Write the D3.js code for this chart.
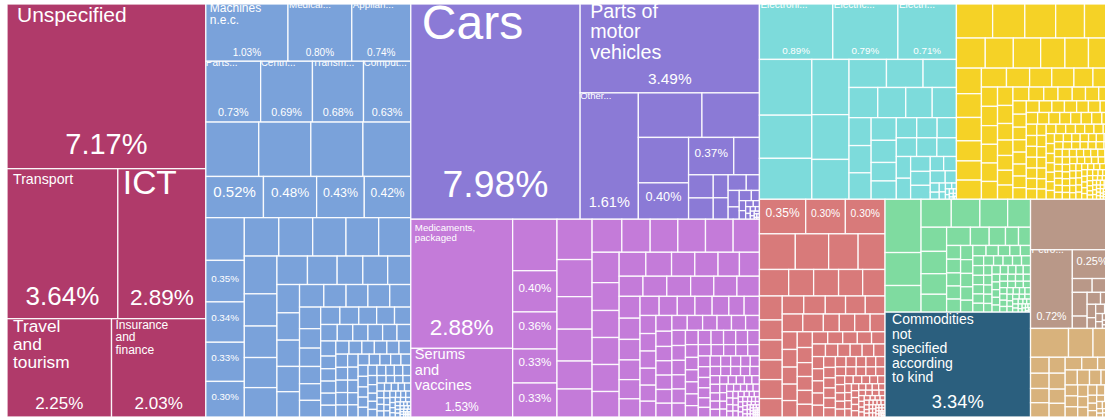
<!DOCTYPE html>
<html>
<head>
<meta charset="utf-8">
<script src="https://cdn.jsdelivr.net/npm/d3@7"></script>
<style>
  html, body { margin: 0; background: #fff; overflow: hidden; }
  text { font-family: "Liberation Sans", Arial, sans-serif; fill: #fff; }
</style>
</head>
<body>
<svg id="chart" width="1105" height="418"></svg>
<script>
// shares of exports in percent, biggest first in every group
var serviceShares = [7.17, 3.64, 2.89, 2.25, 2.03];
var machineryShares = [1.03, .80, .74, .73, .69, .68, .63, .63, .62, .62, .57, .52, .48, .43, .42, .36, .35, .34, .33, .30,
  .29, .285, .28, .275, .27, .27, .23, .225, .215, .21, .19, .185, .16, .155, .144, .14, .135, .13, .125, .125, .12,
  .11, .108, .108, .104, .10, .09, .085, .08, .077, .077, .073, .072, .068, .068, .062, .06,
  .056, .055, .053, .052, .05, .05, .042, .041, .04, .04, .039, .038, .037, .036, .036, .035, .034, .034,
  .033, .032, .032, .031, .03, .03, .029, .028, .028, .027, .026, .026, .025, .024, .024, .023, .022, .022, .021, .02, .02,
  .019, .019, .018, .018, .017, .016, .016, .015, .015, .014, .014, .013, .013, .012, .012, .011, .011, .01, .01, .01,
  .009, .009, .009, .008, .008, .008, .007, .007, .007, .006, .006, .006, .005, .005, .005, .005, .004, .004, .004, .004,
  .003, .003, .003, .003, .003, .002, .002, .002, .002, .002, .002, .001, .001, .001, .001, .001, .001, .001, .001];
var vehicleShares = [7.98, 3.49, 1.61, .62, .56, .50, .40, .37, .21, .125, .115, .075, .07, .062, .045, .04, .03, .027,
  .018, .014, .012, .01, .008, .007, .006, .005, .004, .004, .003, .003, .002, .002, .001, .001];
var chemicalShares = [2.88, 1.53, .50, .40, .36, .33, .33, .31, .285, .25, .245, .215, .215,
  .215, .205, .2, .2, .2, .19, .18, .165, .16, .16, .16, .151, .14, .135, .122, .122, .112, .105,
  .105, .105, .105, .102, .102, .099, .1, .097, .094, .09, .088, .083, .08, .076, .074, .072, .07, .064, .064,
  .063, .061, .06, .059, .056, .055, .055, .053, .05, .05, .05, .048, .048,
  .05, .05, .047, .047, .046, .045, .045, .044, .043, .042, .042, .041, .04, .04,
  .039, .038, .037, .037, .036, .035, .034, .034, .033, .032, .032, .031, .03, .03, .029, .028, .028, .027, .026, .025,
  .025, .024, .023, .023, .022, .021, .021, .02, .02, .019, .019, .018, .018, .017, .017, .016, .016, .015, .015, .014,
  .014, .013, .013, .012, .012, .011, .011, .01, .01, .01, .009, .009, .009, .008, .008, .008, .007, .007, .007, .006, .006, .006,
  .005, .005, .005, .005, .005, .004, .004, .004, .004, .004, .004, .003, .003, .003, .003, .003, .003,
  .002, .002, .002, .002, .002, .002, .002, .002, .001, .001, .001, .001, .001, .001, .001, .001, .001, .001];
var electronicTopShares = [.89, .79, .71];
var electronicShares = [.64, .495, .47, .45, .365, .325, .23, .225, .205, .19, .185, .175, .16, .135, .132, .128,
  .125, .122, .102, .101, .09, .09, .085, .083, .083, .08, .068, .066, .064, .06, .06, .042, .04, .04, .03,
  .018, .014, .012, .01, .008, .006, .005, .004, .004, .003, .003, .002, .002, .001, .001];
var metalShares = [.27, .24, .23, .215, .205, .19, .185, .18, .16, .155, .155, .14, .13, .128, .11, .105, .105,
  .104, .096, .092, .092, .079, .079, .068, .068, .066, .066, .065, .063, .062, .061, .056, .052, .05, .05, .048, .048,
  .045, .043, .043, .04, .04, .04, .039, .038, .037, .036, .035, .035, .034, .034, .033, .032, .032, .031, .03, .03, .03,
  .029, .029, .028, .028, .027, .027, .026, .026, .026, .025, .025, .025, .024, .024, .024, .023, .023, .022, .022, .022,
  .021, .021, .02, .02, .02, .019, .019, .019, .018, .018, .018, .017, .017, .017, .016, .016, .016, .015, .015, .015,
  .014, .014, .014, .014, .014, .014, .013, .013, .013, .013, .013, .013, .012, .012, .012, .012, .012, .012,
  .012, .012, .012, .012, .012, .012, .012, .012,
  .011, .011, .011, .011, .011, .011, .01, .01, .01, .01, .01, .01, .01, .01, .009, .009, .009, .009, .009, .009,
  .008, .008, .008, .008, .008, .008, .007, .007, .007, .007, .007, .007, .006, .006, .006, .006, .006, .006,
  .005, .005, .005, .005, .005, .005, .004, .004, .004, .004, .004, .004, .004, .004,
  .003, .003, .003, .003, .003, .003, .003, .003, .002, .002, .002, .002, .002, .002, .002, .002,
  .001, .001, .001, .001, .001, .001, .001, .001];
var foodShares = [.35, .30, .30, .28, .26, .23, .21, .17, .145, .145, .14, .13, .12, .10, .10, .098, .095, .092,
  .085, .085, .08, .078, .078, .08, .08, .062, .06, .06, .058, .058, .058, .056, .054, .054, .052, .05, .046, .046, .046, .042,
  .041, .04, .039, .038, .036, .036, .034, .034, .033, .032, .031, .03, .03, .03, .03, .029, .028, .027,
  .026, .026, .025, .024, .024, .023, .022, .022, .021, .02, .02, .019, .019, .018, .018, .017, .017, .016, .016, .015,
  .015, .014, .014, .013, .013, .012, .012, .012, .011, .011, .011, .01, .01, .01, .009, .009, .009, .008, .008, .008,
  .007, .007, .007, .006, .006, .006, .005, .005, .005, .005, .005, .004, .004, .004, .004, .004, .004,
  .003, .003, .003, .003, .003, .003, .002, .002, .002, .002, .002, .002, .002, .002, .001, .001, .001, .001, .001, .001, .001, .001];
var textileShares = [.42, .26, .21, .185, .175, .17, .14, .135, .125, .115, .10, .095, .075, .065, .052, .048, .042, .042, .04,
  .04, .04, .038, .037, .036, .036, .032, .03, .028, .026, .024, .023, .023, .023, .022, .022, .022, .021, .021, .02, .02, .019, .019,
  .018, .018, .017, .017, .016, .016, .015, .015, .014, .014, .013, .013, .013, .013, .012, .012, .012, .012,
  .011, .011, .011, .011, .01, .01, .01, .01, .009, .009, .009, .008, .008, .008, .007, .007, .007, .006, .006, .006,
  .005, .005, .005, .004, .004, .004, .003, .003, .003, .002, .002, .002, .001, .001, .001];
var commodityShares = [3.34];
var mineralShares = [.90, .72, .25, .06, .06, .077, .04, .035, .03, .025, .02, .018, .015, .012, .01, .008, .006, .005, .004, .003, .002, .002, .001];
var stoneShares = [.24, .155, .12, .065, .062, .058, .058, .056, .056, .05, .048, .046, .044, .04, .04, .04, .038, .036,
  .03, .03, .028, .026, .024, .022, .02, .018, .016, .015, .014, .012, .011, .01, .009, .008, .007, .006, .005, .004, .004, .003, .002, .002, .001, .001];

// group, position in that group's list, name (blank when only the share shows)
var labelRows = [
  ['services', 0, 'Unspecified'], ['services', 1, 'Transport'], ['services', 2, 'ICT'],
  ['services', 3, 'Travel\nand\ntourism'], ['services', 4, 'Insurance\nand\nfinance'],
  ['machinery', 0, 'Machines\nn.e.c.'], ['machinery', 1, 'Medical...'], ['machinery', 2, 'Applian...'],
  ['machinery', 3, 'Parts...'], ['machinery', 4, 'Centri...'], ['machinery', 5, 'Transm...'], ['machinery', 6, 'Comput...'],
  ['machinery', 11, ''], ['machinery', 12, ''], ['machinery', 13, ''], ['machinery', 14, ''],
  ['machinery', 16, ''], ['machinery', 17, ''], ['machinery', 18, ''], ['machinery', 19, ''],
  ['vehicles', 0, 'Cars'], ['vehicles', 1, 'Parts of\nmotor\nvehicles'], ['vehicles', 2, 'Other...'], ['vehicles', 6, ''], ['vehicles', 7, ''],
  ['chemicals', 0, 'Medicaments,\npackaged'], ['chemicals', 1, 'Serums\nand\nvaccines'],
  ['chemicals', 3, ''], ['chemicals', 4, ''], ['chemicals', 5, ''], ['chemicals', 6, ''],
  ['electronicsTop', 0, 'Electroni...'], ['electronicsTop', 1, 'Electric...'], ['electronicsTop', 2, 'Electri...'],
  ['food', 0, ''], ['food', 1, ''], ['food', 2, ''],
  ['commodities', 0, 'Commodities\nnot\nspecified\naccording\nto kind'],
  ['minerals', 1, 'Petro...'], ['minerals', 2, '']
];
// name size, name left pad, first baseline below cell top, share size, share baseline above cell bottom
var labelStyles = [
  [21, 10, 18, 29, 15], [14.2, 6, 15, 26, 14], [33.5, 5, 25, 22.5, 14],
  [17.3, 6, 13, 17, 8], [12, 4, 10, 17, 8],
  [12, 4, 8, 10, 5], [9.8, 1, 4, 10, 5], [9.8, 1, 4, 10, 5],
  [10, 0, 5, 10.8, 6], [10, 0, 5, 10.8, 6], [10, 0, 5, 10.8, 6], [10, 0, 5, 10.8, 6],
  [0, 0, 0, 15, 21], [0, 0, 0, 13.5, 21], [0, 0, 0, 12.4, 21], [0, 0, 0, 12, 21],
  [0, 0, 0, 9.8, 20], [0, 0, 0, 9.8, 21], [0, 0, 0, 9.8, 20], [0, 0, 0, 9.6, 17],
  [48, 11, 35, 37.3, 22], [19.7, 10, 14, 15.4, 9], [9.5, 0, 6, 14.5, 12], [0, 0, 0, 12.7, 18], [0, 0, 0, 11.8, 18],
  [9.7, 4, 12, 22.5, 13], [14.6, 4, 11, 12, 6],
  [0, 0, 0, 11.6, 20], [0, 0, 0, 11.6, 19], [0, 0, 0, 11.6, 17], [0, 0, 0, 11.6, 15],
  [10, 1, 4, 9.8, 5], [10, 1, 4, 9.8, 5], [10, 1, 4, 9.8, 5],
  [0, 0, 0, 12, 17], [0, 0, 0, 10.3, 17], [0, 0, 0, 10.3, 17],
  [14, 7, 12, 18.3, 9],
  [10, 1, 3, 10.6, 8], [0, 0, 0, 11, 14]
];

var groupColors = {
  services: '#b03a6a', machinery: '#7aa2da', vehicles: '#8b7ad6', chemicals: '#c47bd9',
  electronicsTop: '#7ddbdb', electronics: '#7ddbdb', metals: '#f5d226', food: '#d87a7a', textiles: '#7fdba0',
  commodities: '#2b5f7e', minerals: '#b99888', stone: '#d8b27c'
};

var width = 1105,
    height = 418,
    margin = { top: 4, right: -7, bottom: 1, left: 7 };

function group(name, shares) {
  return {
    name: name,
    children: shares.map(function(share, i) { return { group: name, index: i, value: share }; })
  };
}
function across() { return { tile: d3.treemapDice, children: Array.prototype.slice.call(arguments) }; }
function down() { return { tile: d3.treemapSlice, children: Array.prototype.slice.call(arguments) }; }

var tree = across(
  group('services', serviceShares),
  group('machinery', machineryShares),
  down(group('vehicles', vehicleShares), group('chemicals', chemicalShares)),
  down(
    across(
      down(group('electronicsTop', electronicTopShares), group('electronics', electronicShares)),
      group('metals', metalShares)
    ),
    across(
      group('food', foodShares),
      down(group('textiles', textileShares), group('commodities', commodityShares)),
      down(group('minerals', mineralShares), group('stone', stoneShares))
    )
  )
);

var squarify = d3.treemapSquarify.ratio(1);

var root = d3.hierarchy(tree).sum(function(d) { return d.value; });

d3.treemap()
  .size([width - margin.left - margin.right, height - margin.top - margin.bottom])
  .tile(function(node, x0, y0, x1, y1) {
    (node.data.tile || squarify)(node, x0, y0, x1, y1);
  })(root);

var svg = d3.select('#chart');
var canvas = svg.append('g').attr('transform', 'translate(' + margin.left + ',' + margin.top + ')');
var leaves = root.leaves();

canvas.selectAll('rect.cell')
  .data(leaves)
  .join('rect')
  .attr('class', 'cell')
  .attr('x', function(d) { return d.x0; })
  .attr('y', function(d) { return d.y0; })
  .attr('width', function(d) { return d.x1 - d.x0; })
  .attr('height', function(d) { return d.y1 - d.y0; })
  .attr('fill', function(d) { return groupColors[d.data.group]; })
  .attr('stroke', '#fff')
  .attr('stroke-opacity', .9)
  .attr('stroke-width', 1.3);

var defs = svg.append('defs');

labelRows.forEach(function(row, i) {
  var cell = leaves.find(function(d) { return d.data.group === row[0] && d.data.index === row[1]; }),
      style = labelStyles[i],
      clipId = 'cell-clip-' + i;

  defs.append('clipPath').attr('id', clipId).append('rect')
    .attr('x', cell.x0)
    .attr('y', cell.y0)
    .attr('width', cell.x1 - cell.x0)
    .attr('height', cell.y1 - cell.y0);

  var label = canvas.append('g').attr('clip-path', 'url(#' + clipId + ')');

  if (row[2]) {
    var name = label.append('text')
      .attr('font-size', style[0])
      .attr('x', cell.x0 + style[1])
      .attr('y', cell.y0 + style[2]);
    row[2].split('\n').forEach(function(line, n) {
      name.append('tspan')
        .attr('x', cell.x0 + style[1])
        .attr('dy', n ? style[0] * 1.04 : 0)
        .text(line);
    });
  }

  label.append('text')
    .attr('font-size', style[3])
    .attr('text-anchor', 'middle')
    .attr('x', (cell.x0 + cell.x1) / 2)
    .attr('y', cell.y1 - style[4])
    .text(cell.data.value.toFixed(2) + '%');
});
</script>
</body>
</html>
